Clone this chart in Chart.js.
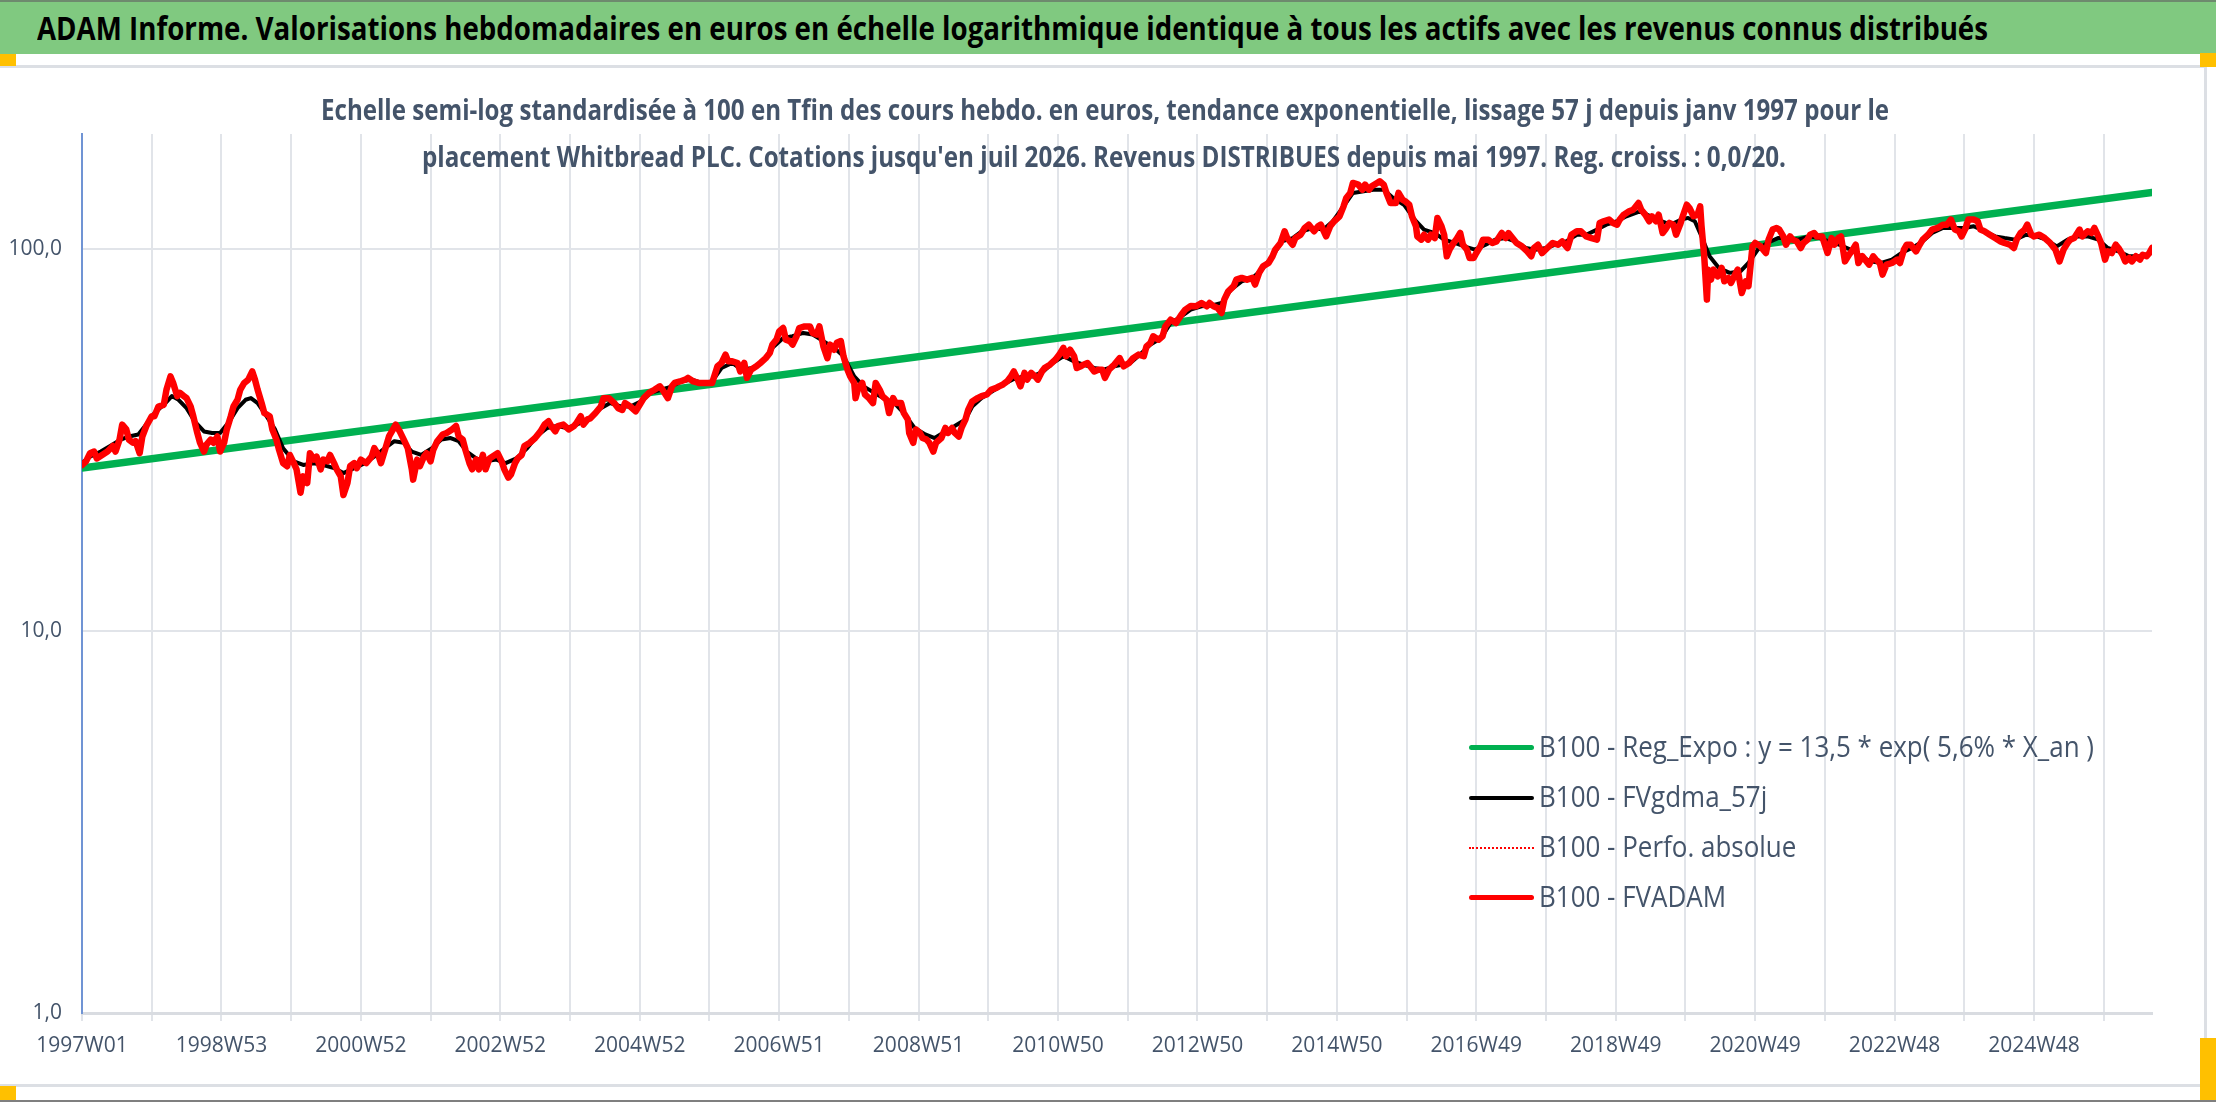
<!DOCTYPE html>
<html>
<head>
<meta charset="utf-8">
<script src="https://cdn.jsdelivr.net/npm/chart.js@4.4.1/dist/chart.umd.min.js"></script>
<style>
  html, body { margin: 0; padding: 0; background: #fff; }
  body { width: 2216px; height: 1102px; position: relative; overflow: hidden; }
  .abs { position: absolute; }
  .txt { white-space: nowrap; transform-origin: 0 0; }
  #band { left: 0; top: 0; width: 2216px; height: 54px; background: #80C980; border-top: 2px solid #6E8A6E; box-sizing: border-box; }
  #title { left: 37px; color: #000; font-weight: bold; font-size: 32px; line-height: 32px; }
  .sub { color: #44546A; font-weight: bold; font-size: 28px; line-height: 28px; }
  .leg { color: #44546A; font-size: 29px; line-height: 29px; left: 1539px; }
  .handle { background: #FFC000; }
  .frame { background: #DCDFE4; }
  #chart { left: 0; top: 0; }
</style>
</head>
<body>
<div id="band" class="abs"></div>
<div id="title" class="abs txt">ADAM Informe. Valorisations hebdomadaires en euros en échelle logarithmique identique à tous les actifs avec les revenus connus distribués</div>

<div class="abs frame" style="left:0;top:65px;width:2207px;height:3px"></div>
<div class="abs frame" style="left:2204px;top:65px;width:3px;height:1021px"></div>
<div class="abs frame" style="left:0;top:1084px;width:2207px;height:3px"></div>
<div class="abs" style="left:0;top:1100px;width:2216px;height:2px;background:#7F7F7F"></div>

<div class="abs handle" style="left:0;top:54px;width:16px;height:12px"></div>
<div class="abs handle" style="left:2200px;top:53px;width:16px;height:14px"></div>
<div class="abs handle" style="left:2200px;top:1038px;width:16px;height:62px"></div>
<div class="abs handle" style="left:0;top:1086px;width:16px;height:14px"></div>

<canvas id="chart" class="abs" width="2216" height="1102"></canvas>

<div id="sub1" class="abs txt sub">Echelle semi-log standardisée à 100 en Tfin des cours hebdo. en euros, tendance exponentielle, lissage 57 j depuis janv 1997 pour le</div>
<div id="sub2" class="abs txt sub">placement Whitbread PLC. Cotations jusqu'en juil 2026. Revenus DISTRIBUES depuis mai 1997. Reg. croiss. : 0,0/20.</div>

<div class="abs" style="left:1469px;top:745px;width:65px;height:5px;background:#00B050;border-radius:3px"></div>
<div class="abs" style="left:1469px;top:796px;width:65px;height:4px;background:#000;border-radius:2px"></div>
<div class="abs" style="left:1469px;top:847px;width:65px;height:0;border-top:2px dotted #FF0000"></div>
<div class="abs" style="left:1469px;top:895px;width:65px;height:5px;background:#FF0000;border-radius:3px"></div>
<div id="leg1" class="abs txt leg">B100 - Reg_Expo : y = 13,5 * exp( 5,6% *  X_an )</div>
<div id="leg2" class="abs txt leg">B100 - FVgdma_57j</div>
<div id="leg3" class="abs txt leg">B100 - Perfo. absolue</div>
<div id="leg4" class="abs txt leg">B100 - FVADAM</div>

<script>
// libellés de l'axe des semaines (un libellé toutes les 104 semaines)
const tickLabels = ["1997W01", "1998W53", "2000W52", "2002W52", "2004W52", "2006W51", "2008W51",
  "2010W50", "2012W50", "2014W50", "2016W49", "2018W49", "2020W49", "2022W48", "2024W48"];
const yTickValues = [1, 10, 100];
const yTickLabels = ["1,0", "10,0", "100,0"];
const lastWeek = 1544;

// B100 - Reg_Expo (droite en semi-log)
const regWeeks = [0, 1544];
const regValues = [26.7, 140.6];

// B100 - FVgdma_57j (moyenne lissée)
const gdmaWeeks = [0, 6, 14, 21, 29, 35, 42, 47, 54, 61, 67, 72, 78, 84, 91, 97, 103, 110, 116, 122, 126, 131, 137, 144, 150,
  158, 165, 173, 180, 188, 195, 203, 211, 218, 226, 233, 240, 246, 253, 261, 268, 275, 281, 287, 294, 301, 309, 316, 324,
  332, 339, 347, 354, 362, 369, 377,
  387, 394, 402, 409, 417, 424, 432, 440, 447, 455, 462, 470, 477, 485, 492, 500, 508, 515, 523, 530, 538, 545, 553, 561,
  568, 576, 583, 591, 598, 606, 613, 621, 629, 636, 644, 651, 659, 664, 671, 679, 687, 694, 702, 709, 717, 724, 732, 740,
  747, 755, 762, 770,
  782, 789, 797, 805, 812, 820, 827, 835, 842, 850, 857, 865, 873, 880, 888, 895, 903, 910, 918, 926, 933, 941, 948, 956,
  963, 971, 978, 986, 994, 1001, 1009, 1016, 1024, 1031, 1039, 1047, 1054, 1062, 1069, 1077, 1084, 1092, 1099, 1107, 1115,
  1122, 1130, 1137, 1145, 1152,
  1162, 1170, 1178, 1185, 1193, 1198, 1203, 1208, 1214, 1221, 1229, 1237, 1243, 1250, 1257, 1265, 1273, 1280, 1288, 1296,
  1303, 1311, 1319, 1327, 1334, 1342, 1350, 1357, 1365, 1373, 1380, 1388, 1396, 1404, 1411, 1419, 1427, 1434, 1442, 1450,
  1458, 1465, 1473, 1481, 1488, 1496, 1504, 1511, 1519, 1527, 1535, 1544];
const gdmaValues = [27.5, 28.6, 29.5, 30.5, 31.7, 32.3, 32.7, 34.4, 37.2, 39.1, 41.2, 40.3, 38.3, 35.4, 33.3, 33.0, 33.0, 35.4,
  38.3, 40.3, 40.7, 39.5, 36.8, 33.7, 30.1, 27.8, 27.2, 27.5, 27.2, 26.7, 25.9, 26.7, 27.5, 28.6, 30.1, 31.4, 31.1, 29.5,
  28.9, 30.1, 31.7, 32.0, 31.4, 29.5, 28.3, 27.8, 28.1, 27.5, 28.3, 30.1, 32.3, 34.0, 34.4, 34.0, 34.7, 35.8,
  38.3, 39.5, 38.7, 38.7, 39.9, 42.0, 42.8, 43.7, 45.0, 45.5, 44.6, 45.0, 48.8, 50.3, 48.3, 48.8, 50.8, 55.1, 58.5, 59.1,
  60.3, 59.7, 57.4, 55.1, 52.4, 46.4, 43.7, 42.0, 40.7, 39.5, 37.2, 34.0, 32.7, 32.0, 33.3, 34.4, 35.8, 38.7, 40.7, 42.4,
  44.2, 45.5, 46.4, 46.4, 47.8, 50.3, 52.4, 50.8, 49.8, 48.8, 48.3, 49.3,
  50.3, 52.9, 56.2, 58.5, 64.0, 66.6, 69.4, 70.8, 71.1, 72.2, 78.3, 82.3, 84.0, 88.3, 95.7, 104.7, 106.8, 111.3, 113.5,
  112.4, 118.2, 129.3, 140.2, 141.6, 143.0, 143.0, 136.0, 130.6, 119.4, 112.4, 110.1, 105.8, 103.7, 101.6, 99.6, 102.6,
  105.8, 106.8, 104.7, 100.6, 99.6, 100.6, 102.6, 104.7, 109.0, 109.0, 112.4, 115.8, 118.2, 121.8,
  125.5, 121.8, 118.2, 115.8, 119.4, 120.6, 118.2, 107.9, 95.7, 89.2, 86.6, 87.4, 91.9, 99.6, 103.7, 106.8, 106.8, 105.8,
  107.9, 106.8, 104.7, 102.6, 99.6, 95.7, 92.8, 91.9, 93.8, 97.6, 100.6, 104.7, 110.1, 113.5, 113.5, 113.5, 114.7, 111.3,
  107.9, 106.8, 105.8, 109.0, 107.9, 105.8, 101.6, 105.8, 107.9, 107.9, 105.8, 100.6, 98.6, 95.7, 95.7, 97.6];

// B100 - FVADAM (valorisation hebdo)
const adamWeeks = [0, 3, 6, 9, 11, 15, 19, 23, 25, 28, 30, 33, 35, 38, 40, 43, 45, 48, 52, 54, 57, 61, 63, 66, 68, 71, 73,
  76, 78, 81, 83, 86, 88, 91, 93, 96, 98, 101, 103, 106, 108, 111, 113, 116, 118, 121, 124, 127, 129, 131, 134, 136, 140,
  142, 145, 147, 150, 153, 155, 158, 160, 163, 165, 168, 170, 173, 175, 178, 180, 183, 185, 188, 190, 193, 195, 198, 200,
  203, 205, 208, 212, 216, 218, 221, 223, 226, 229, 232, 234, 237, 240, 243, 246, 247, 250, 252, 255, 257, 260, 262, 265,
  269, 272, 276, 279, 281, 284, 286, 289, 291, 294, 296, 299, 301, 304, 308, 310, 313, 315, 318, 320, 323, 325, 328, 330,
  334, 338, 342, 345, 348, 350, 353, 355, 359, 363, 367, 369, 372, 374, 377, 379,
  383, 387, 389, 393, 397, 400, 403, 405, 409, 413, 416, 419, 423, 427, 431, 433, 437, 440, 442, 446, 450, 452, 456, 460,
  465, 470, 474, 477, 480, 482, 485, 489, 491, 494, 496, 499, 503, 506, 510, 513, 515, 518, 520, 523, 525, 528, 530, 533,
  535, 539, 543, 545, 548, 550, 553, 556, 558, 561, 563, 566, 568, 571, 573, 576, 577, 579, 582, 584, 587, 590, 592, 595,
  597, 600, 602, 605, 607, 611, 613, 616, 617, 620, 622, 625, 627, 630, 632, 635, 637, 641, 644, 646, 649, 651, 654, 656,
  659, 661, 664, 668, 671, 675, 678, 682, 684, 687, 690, 693, 695, 698, 700, 703, 705, 708, 711, 713, 716, 718, 722, 726,
  729, 732, 734, 737, 740, 742, 745, 747, 750, 752, 755, 758, 761, 763, 766, 770, 774,
  777, 781, 784, 788, 792, 794, 797, 799, 803, 806, 808, 812, 816, 820, 823, 827, 831, 835, 839, 841, 844, 847, 850, 852,
  855, 859, 861, 865, 869, 873, 875, 878, 881, 885, 888, 890, 894, 897, 899, 903, 905, 909, 912, 915, 919, 922, 924, 928,
  931, 934, 938, 941, 943, 946, 948, 952, 955, 957, 960, 962, 966, 968, 971, 973, 976, 980, 982, 985, 987, 990, 992, 995,
  996, 999, 1001, 1004, 1006, 1009, 1011, 1014, 1016, 1018, 1020, 1023, 1025, 1028, 1030, 1033, 1035, 1038, 1040, 1043,
  1045, 1049, 1052, 1055, 1059, 1062, 1064, 1067, 1070, 1074, 1078, 1081, 1083, 1086, 1089, 1093, 1097, 1101, 1104, 1108,
  1111, 1115, 1118, 1122, 1126, 1130, 1132, 1135, 1139, 1142, 1145, 1147, 1150, 1154, 1157,
  1161, 1163, 1166, 1169, 1171, 1174, 1176, 1179, 1181, 1184, 1187, 1189, 1192, 1194, 1197, 1199, 1202, 1205, 1207, 1208,
  1210, 1212, 1213, 1215, 1217, 1220, 1223, 1225, 1228, 1230, 1233, 1235, 1238, 1241, 1243, 1246, 1248, 1252, 1256, 1258,
  1261, 1264, 1266, 1269, 1271, 1274, 1276, 1279, 1282, 1284, 1287, 1289, 1292, 1294, 1298, 1302, 1305, 1307, 1310, 1312,
  1315, 1318, 1320, 1323, 1325, 1328, 1330, 1333, 1336, 1338, 1341, 1343, 1346, 1350, 1354, 1356, 1359, 1361, 1364, 1368,
  1370, 1373, 1377, 1380, 1384, 1388, 1391, 1394, 1397, 1400, 1402, 1405, 1407, 1411, 1414, 1416, 1419, 1423, 1427, 1431,
  1434, 1438, 1441, 1443, 1446, 1449, 1451, 1454, 1456, 1460, 1464, 1468, 1472, 1475, 1478, 1481, 1483, 1486, 1490, 1492,
  1496, 1499, 1501, 1504, 1506, 1509, 1511, 1514, 1517, 1519, 1522, 1524, 1527, 1529, 1532, 1535, 1537, 1540, 1542, 1544];
const adamValues = [27.2, 27.8, 29.2, 29.5, 28.3, 28.9, 29.5, 30.5, 29.5, 31.7, 34.7, 33.7, 31.7, 31.1, 31.4, 29.2, 32.3,
  34.4, 36.5, 36.5, 38.7, 39.1, 42.8, 46.4, 44.6, 41.2, 42.0, 41.2, 40.7, 38.7, 36.5, 33.0, 31.1, 29.5, 30.8, 31.7, 31.1,
  32.3, 29.5, 31.1, 33.7, 36.5, 38.7, 40.3, 42.8, 44.6, 45.5, 47.8, 45.5, 42.8, 39.5, 37.2, 36.5, 33.7, 31.7, 29.8, 27.5,
  27.0, 28.9, 27.5, 26.5, 23.0, 25.4, 24.4, 29.2, 28.1, 28.6, 26.5, 28.1, 27.8, 28.9, 27.5, 26.5, 25.4, 22.7, 24.4, 27.0,
  27.5, 26.7, 28.1, 27.5, 28.6, 30.1, 28.9, 27.5, 29.8, 32.3, 33.7, 34.7, 33.3, 31.7, 30.1, 26.5, 24.9, 28.1, 27.0, 28.6,
  29.2, 27.8, 29.8, 31.4, 32.7, 33.0, 33.7, 34.4, 32.3, 31.7, 29.8, 27.5, 26.5, 28.1, 26.5, 28.9, 26.5, 28.3, 28.9, 29.2,
  27.8, 26.5, 25.2, 25.7, 27.5, 28.3, 28.9, 30.5, 31.1, 32.0, 33.3, 34.7, 35.4, 34.4, 33.3, 34.4, 34.7, 33.7, 34.4, 35.1,
  36.5, 34.7, 35.8, 36.0,
  37.2, 38.7, 40.7, 40.7, 39.5, 38.3, 37.9, 39.5, 38.7, 37.6, 39.1, 40.7, 42.0, 42.8, 43.7, 42.8, 40.7, 43.7, 44.6, 45.0,
  45.5, 46.0, 45.0, 44.6, 44.6, 44.6, 49.3, 50.3, 52.9, 50.8, 50.8, 50.3, 47.8, 50.3, 46.0, 48.3, 49.3, 50.3, 51.8, 53.4,
  56.2, 57.9, 60.8, 62.1, 57.9, 57.4, 56.2, 59.1, 62.1, 62.7, 62.7, 60.3, 59.7, 62.7, 55.6, 51.8, 56.2, 54.5, 56.8, 57.4,
  52.4, 48.3, 46.4, 44.6, 40.7, 43.3, 44.6, 41.6, 40.7, 39.5, 44.6, 42.8, 41.2, 40.3, 37.2, 40.7, 39.5, 39.5, 37.2, 35.8,
  33.0, 31.1, 33.7, 33.0, 32.0, 31.7, 31.1, 29.5, 31.1, 32.0, 34.0, 33.0, 34.0, 33.0, 32.3, 34.0, 35.8, 37.9, 39.9, 40.7,
  41.2, 41.6, 42.8, 43.3, 43.7, 44.2, 45.0, 46.4, 47.8, 45.5, 43.7, 47.4, 45.5, 47.4, 46.4, 45.5, 47.8, 48.8, 49.8, 51.3,
  52.9, 55.1, 52.4, 54.5, 52.4, 48.8, 49.3, 49.8, 50.3, 49.3, 47.8, 48.3, 48.3, 46.0, 48.3, 49.8, 51.8,
  49.3, 50.3, 51.8, 52.9, 52.4, 55.6, 56.8, 59.1, 57.9, 59.1, 62.7, 65.3, 64.0, 67.3, 69.4, 70.9, 70.8, 72.2, 70.8, 72.2,
  70.8, 70.1, 68.0, 73.7, 77.5, 79.9, 83.1, 84.0, 83.1, 84.0, 80.7, 86.6, 90.1, 91.9, 95.7, 99.6, 103.7, 111.3, 106.8,
  102.6, 106.8, 109.0, 113.5, 115.8, 111.3, 114.7, 115.8, 107.9, 114.7, 118.2, 121.8, 129.3, 136.0, 140.2, 148.9, 147.4,
  143.0, 147.4, 143.0, 145.9, 148.9, 150.4, 147.4, 140.2, 131.9, 131.9, 140.2, 134.6, 133.3, 130.6, 121.8, 114.7, 107.9,
  105.8, 109.0, 105.8, 109.0, 106.8, 120.6, 114.7, 109.0, 95.7, 99.6, 103.7, 105.8, 110.1, 102.6, 99.6, 94.7, 94.7, 97.6,
  101.6, 105.8, 105.8, 103.7, 104.7, 110.1, 106.8, 110.1, 106.8, 103.7, 101.6, 98.6, 95.7, 100.6, 102.6, 97.6, 100.6,
  103.7, 102.6, 104.7, 100.6, 109.0, 111.3, 111.3, 107.9, 106.8, 105.8, 117.0, 118.2, 119.4, 117.0, 115.8, 119.4, 123.0,
  125.5, 126.7,
  131.9, 126.7, 123.0, 118.2, 121.8, 118.2, 123.0, 110.1, 112.4, 117.0, 115.8, 109.0, 115.8, 121.8, 130.6, 128.0, 121.8,
  123.0, 129.3, 114.7, 95.7, 73.7, 88.3, 83.1, 88.3, 84.8, 89.2, 82.3, 84.0, 81.5, 85.7, 88.3, 76.7, 82.3, 79.9, 101.6,
  103.7, 101.6, 97.6, 105.8, 112.4, 113.5, 112.4, 107.9, 102.6, 107.9, 105.8, 104.7, 100.6, 103.7, 105.8, 109.0, 110.1,
  107.9, 107.9, 97.6, 106.8, 102.6, 106.8, 107.9, 92.8, 96.6, 98.6, 102.6, 91.9, 95.7, 93.8, 91.0, 95.7, 93.8, 91.9, 85.7,
  91.0, 91.9, 93.8, 91.9, 99.6, 102.6, 102.6, 98.6, 101.6, 105.8, 109.0, 112.4, 113.5, 115.8, 115.8, 119.4, 112.4, 111.3,
  107.9, 113.5, 119.4, 119.4, 118.2, 112.4, 111.3, 109.0, 106.8, 104.7, 103.7, 102.6, 100.6, 105.8, 110.1, 112.4, 115.8,
  109.0, 107.9, 109.0, 106.8, 103.7, 99.6, 92.8, 99.6, 103.7, 105.8, 106.8, 112.4, 107.9, 111.3, 110.1, 113.5, 107.9,
  103.7, 93.8, 98.6, 97.6, 102.6, 100.6, 96.6, 92.8, 94.7, 92.8, 95.7, 93.8, 96.6, 95.7, 97.6, 100.6];

// police étroite si disponible, sinon Open Sans
function hasFont(name) {
  const c = document.createElement("canvas").getContext("2d");
  c.font = "72px monospace";
  const a = c.measureText("1997W01 abcdefg").width;
  c.font = `72px "${name}", monospace`;
  return c.measureText("1997W01 abcdefg").width !== a;
}
const narrow = hasFont("Liberation Sans Narrow");
const family = narrow ? '"Liberation Sans Narrow", sans-serif' : '"Open Sans", sans-serif';
const xFontSize = narrow ? 24 : 21;
const yFontSize = narrow ? 23 : 21;

// textes HTML : ligne de base et largeur cible
function place(id, baseline, width, scale) {
  const el = document.getElementById(id);
  el.style.fontFamily = family;
  const fs = parseFloat(getComputedStyle(el).fontSize);
  el.style.top = (baseline - fs * (narrow ? 0.8465 : 0.888)) + "px";
  const k = scale || width / el.getBoundingClientRect().width;
  el.style.transform = `scaleX(${k})`;
  return k;
}
place("title", 40, 1951);
place("sub1", 120, 1568);
document.getElementById("sub1").style.left = "321px";
place("sub2", 167, 1364);
document.getElementById("sub2").style.left = "422px";
const legScale = place("leg1", 757, 555);
place("leg2", 807, 0, legScale);
place("leg3", 857, 0, legScale);
place("leg4", 907, 0, legScale);

const gridWeeks = [];
for (let w = 0; w <= lastWeek; w += 52) gridWeeks.push(w);

function points(xs, ys) {
  return xs.map((x, i) => ({ x: x, y: ys[i] }));
}

new Chart(document.getElementById("chart").getContext("2d"), {
  type: "line",
  data: {
    datasets: [
      { label: "B100 - FVADAM", data: points(adamWeeks, adamValues), borderColor: "#FF0000", borderWidth: 6.5, order: 0 },
      { label: "B100 - Perfo. absolue", data: points(adamWeeks, adamValues), borderColor: "#FF0000", borderWidth: 2, borderDash: [2, 3], order: 1 },
      { label: "B100 - FVgdma_57j", data: points(gdmaWeeks, gdmaValues), borderColor: "#000000", borderWidth: 4, order: 2 },
      { label: "B100 - Reg_Expo : y = 13,5 * exp( 5,6% *  X_an )", data: points(regWeeks, regValues), borderColor: "#00B050", borderWidth: 7.5, order: 3 },
    ],
  },
  options: {
    responsive: false,
    animation: false,
    layout: { padding: { top: 134, right: 64, left: 0, bottom: 0 } },
    elements: {
      point: { radius: 0 },
      line: { tension: 0, fill: false, borderJoinStyle: "round", borderCapStyle: "round" },
    },
    plugins: { legend: { display: false }, tooltip: { enabled: false } },
    scales: {
      x: {
        type: "linear",
        min: 0,
        max: lastWeek,
        afterBuildTicks: (s) => { s.ticks = gridWeeks.map((v) => ({ value: v })); },
        afterFit: (s) => { s.height = 89; },
        grid: {
          color: (c) => (c.tick && c.tick.value === 0 ? "rgba(0,0,0,0)" : "#E1E4E9"),
          tickColor: "#E1E4E9",
          lineWidth: 2,
          drawTicks: true,
          tickLength: 8,
        },
        border: { color: "#D9DCE1", width: 3 },
        ticks: {
          autoSkip: false,
          maxRotation: 0,
          minRotation: 0,
          padding: 12,
          color: "#44546A",
          font: { family: family, size: xFontSize },
          callback: (v) => (v % 104 === 0 ? tickLabels[v / 104] : ""),
        },
      },
      y: {
        type: "logarithmic",
        min: 1,
        max: 200,
        afterBuildTicks: (s) => { s.ticks = yTickValues.map((v) => ({ value: v })); },
        afterFit: (s) => { s.width = 82; },
        grid: {
          color: (c) => (c.tick && c.tick.value === 1 ? "rgba(0,0,0,0)" : "#E1E4E9"),
          lineWidth: 2,
          drawTicks: false,
        },
        border: { color: "#7094D4", width: 2 },
        ticks: {
          padding: 20,
          color: "#44546A",
          font: { family: family, size: yFontSize },
          callback: (v) => {
            const i = yTickValues.indexOf(v);
            return i >= 0 ? yTickLabels[i] : "";
          },
        },
      },
    },
  },
});
</script>
</body>
</html>
